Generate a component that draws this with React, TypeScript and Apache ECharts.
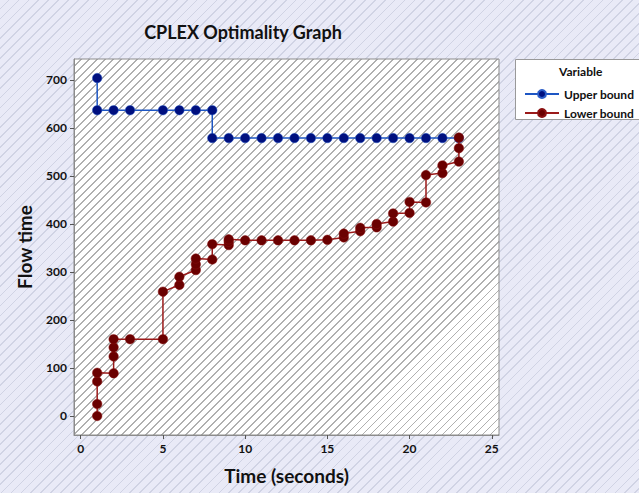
import React, { useEffect, useRef } from "react";
import * as echarts from "echarts";

const title = "CPLEX Optimality Graph";
const xTitle = "Time (seconds)";
const yTitle = "Flow time";
const legendTitle = "Variable";
const seriesNames = ["Upper bound", "Lower bound"];
const xTicks = [0, 5, 10, 15, 20, 25];
const yTicks = [0, 100, 200, 300, 400, 500, 600, 700];

const upperX = [1, 1, 2, 3, 5, 6, 7, 8, 8, 9, 10, 11, 12, 13, 14, 15, 16, 17, 18, 19, 20, 21, 22, 23];
const upperY = [704, 637, 637, 637, 637, 637, 637, 637, 579, 579, 579, 579, 579, 579, 579, 579, 579, 579, 579, 579, 579, 579, 579, 579];

const lowerX = [1, 1, 1, 1, 2, 2, 2, 2, 3, 5, 5, 6, 6, 7, 7, 7, 8, 8, 9, 9, 9, 10, 11, 12, 13, 14, 15, 16, 16, 17, 17, 18, 18, 19, 19, 20, 20, 21, 21, 22, 22, 23, 23, 23];
const lowerY = [0, 25, 72, 90, 89, 124, 143, 160, 160, 160, 259, 273, 290, 304, 316, 328, 326, 358, 356, 363, 368, 366, 366, 366, 366, 366, 367, 372, 380, 385, 392, 393, 400, 405, 422, 423, 446, 445, 502, 506, 522, 530, 558, 580];

const FONT = "Lato, 'Open Sans', sans-serif";

const GRID = { left: 74, top: 59, width: 425, height: 376 };

export default function App() {
  const ref = useRef<HTMLDivElement>(null);
  useEffect(() => {
    if (!ref.current) return;
    const chart = echarts.init(ref.current, undefined, { renderer: "svg" });
    const upper = upperX.map((x, i) => [x, upperY[i]]);
    const lower = lowerX.map((x, i) => [x, lowerY[i]]);
    chart.setOption({
      animation: false,
      backgroundColor: "transparent",
      title: {
        text: title,
        left: 238,
        top: 18,
        textAlign: "center",
        textStyle: { fontFamily: FONT, fontWeight: "bold", fontSize: 18, color: "#111" },
      },
      grid: { ...GRID, show: true, borderColor: "#8c8c8c", borderWidth: 1, backgroundColor: "transparent" },
      xAxis: {
        type: "value",
        min: -0.41,
        max: 25.44,
        name: xTitle,
        nameLocation: "middle",
        nameGap: 31,
        nameTextStyle: { fontFamily: FONT, fontWeight: "bold", fontSize: 19, color: "#111" },
        axisLine: { show: true, onZero: false, lineStyle: { color: "#8c8c8c" } },
        axisTick: { show: true, length: 4, customValues: xTicks, lineStyle: { color: "#555" } },
        axisLabel: { customValues: xTicks, margin: 7, fontFamily: FONT, fontWeight: "bold", fontSize: 12, color: "#111" },
        splitLine: { show: false },
      },
      yAxis: {
        type: "value",
        min: -39.6,
        max: 743.7,
        name: yTitle,
        nameLocation: "middle",
        nameGap: 40,
        nameRotate: 90,
        nameTextStyle: { fontFamily: FONT, fontWeight: "bold", fontSize: 19, color: "#111" },
        axisLine: { show: true, onZero: false, lineStyle: { color: "#8c8c8c" } },
        axisTick: { show: true, length: 4, customValues: yTicks, lineStyle: { color: "#555" } },
        axisLabel: { customValues: yTicks, margin: 7, fontFamily: FONT, fontWeight: "bold", fontSize: 12, color: "#111" },
        splitLine: { show: false },
      },
      legend: {
        left: 519,
        top: 83,
        orient: "vertical",
        itemWidth: 34,
        itemHeight: 10,
        itemGap: 7,
        data: seriesNames,
        textStyle: { fontFamily: FONT, fontWeight: "bold", fontSize: 12, color: "#111" },
      },
      graphic: [
        {
          type: "rect",
          left: 515,
          top: 59,
          shape: { width: 140, height: 60 },
          style: { fill: "#fff", stroke: "#999", lineWidth: 1 },
          z: -1,
        },
        {
          type: "text",
          left: 559,
          top: 65,
          style: { text: legendTitle, font: `bold 12px ${FONT}`, fill: "#111" },
        },
      ],
      series: [
        {
          name: seriesNames[0],
          type: "line",
          data: upper,
          symbol: "circle",
          symbolSize: 9.5,
          showAllSymbol: true,
          lineStyle: { color: "#1d56c4", width: 1.5 },
          itemStyle: { color: "#00107f", borderColor: "#2a5cc8", borderWidth: 0.5 },
          z: 3,
        },
        {
          name: seriesNames[1],
          type: "line",
          data: lower,
          symbol: "circle",
          symbolSize: 9.5,
          showAllSymbol: true,
          lineStyle: { color: "#9b1a1a", width: 1.5 },
          itemStyle: { color: "#6a0000", borderColor: "#8a1010", borderWidth: 0.5 },
          z: 4,
        },
      ],
    });
    return () => chart.dispose();
  }, []);

  const outerBg = "repeating-linear-gradient(135deg, #e9eaf7 0px, #e9eaf7 5.8px, #d0d3e4 5.8px, #d0d3e4 7px)";
  const innerBg = "repeating-linear-gradient(135deg, #ffffff 0px, #ffffff 4.7px, #b0b0b0 4.7px, #b0b0b0 5.66px)";

  return (
    <div style={{ position: "fixed", left: 0, top: 0, width: 639, height: 493, background: outerBg, overflow: "hidden" }}>
      <div
        style={{
          position: "absolute",
          left: GRID.left,
          top: GRID.top,
          width: GRID.width,
          height: GRID.height,
          background: innerBg,
        }}
      />
      <div ref={ref} style={{ position: "absolute", left: 0, top: 0, width: 639, height: 493 }} />
    </div>
  );
}
